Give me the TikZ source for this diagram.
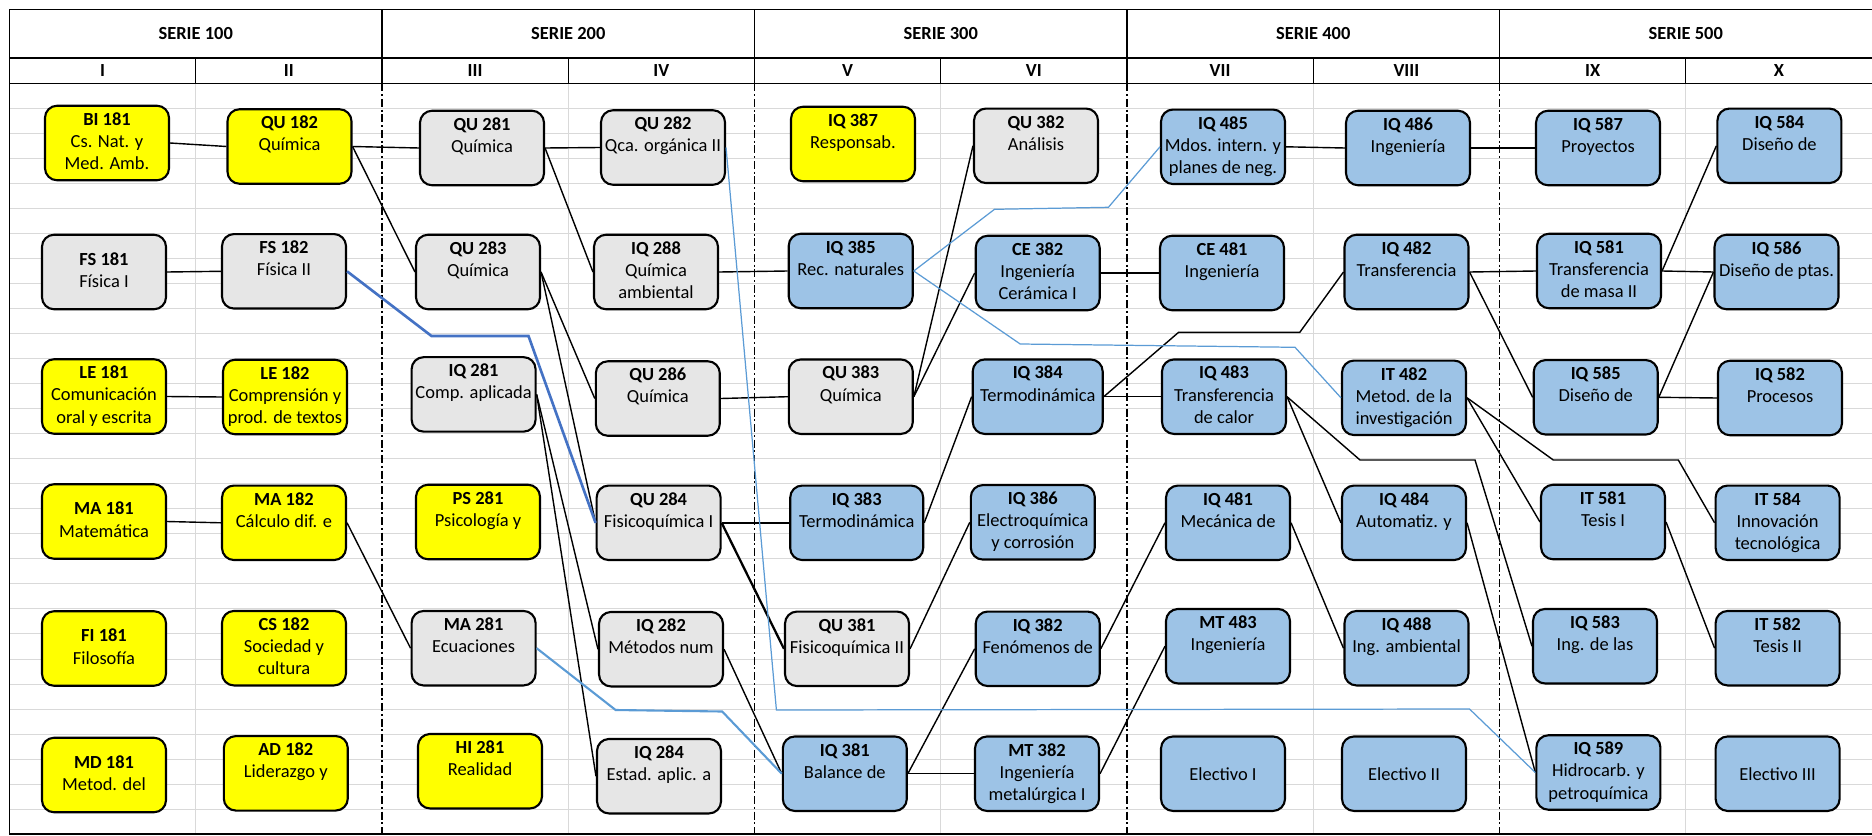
\documentclass[tikz,border=0pt]{standalone}
\usepackage{fontspec}
\setmainfont{Carlito}
\definecolor{cAmarillo}{HTML}{FFFF00}
\definecolor{cGris}{HTML}{E6E6E6}
\definecolor{cAzul}{HTML}{9DC3E6}
\definecolor{cAzulF}{HTML}{4472C4}
\definecolor{cAzulC}{HTML}{5B9BD5}
\definecolor{cRejilla}{HTML}{D9D9D9}
\newcommand{\curso}[3]{\textbf{#1}\strut\\#2\strut\\#3\strut}
\newcommand{\cursoc}[2]{\textbf{#1}\strut\\#2\strut}
\begin{document}
\begin{tikzpicture}[x=0.02cm,y=-0.02cm,font=\fontsize{10.5}{12.6}\selectfont,
    ramo/.style={draw,line width=1.2pt,rounded corners=0.24cm,minimum width=2.48cm,
      minimum height=1.49cm,align=center,inner xsep=2pt,inner ysep=1pt},
    basico/.style={ramo,fill=cAmarillo},
    ciencia/.style={ramo,fill=cGris},
    especial/.style={ramo,fill=cAzul},
    req/.style={line width=0.8pt},
    reqfuerte/.style={line width=1.5pt,cAzulF},
    reqmedio/.style={line width=1.2pt,cAzulC},
    reqclaro/.style={line width=0.7pt,cAzulC},
    rejilla/.style={line width=0.55pt,cRejilla},
    serie/.style={line width=1.1pt,dash pattern=on 0.16cm off 0.055cm on 0.04cm off 0.055cm}]
  \useasboundingbox (0,0) rectangle (1872,835);
  \foreach \k in {1,...,29}
    \draw[rejilla] (9.5,{83.3+25.03*\k}) -- (1872,{83.3+25.03*\k});
  \foreach \i in {1,3,...,9}
    \draw[rejilla] ({9.5+186.25*\i},83.3) -- ({9.5+186.25*\i},834);
  \foreach \i in {2,4,6,8}
    \draw[serie] ({9.5+186.25*\i},83.3) -- ({9.5+186.25*\i},834);
  % encabezado
  \draw[line width=0.75pt] (9.5,9.3) -- (1872,9.3);
  \draw[line width=1.3pt] (9.5,58.3) -- (1872,58.3);
  \draw[line width=0.75pt] (9.5,83.3) -- (1872,83.3);
  \draw[line width=0.75pt] (9.5,9.3) -- (9.5,834) -- (1872,834);
  \foreach \i in {2,4,6,8}
    \draw[line width=1.1pt] ({9.5+186.25*\i},9.3) -- ({9.5+186.25*\i},83.3);
  \foreach \i in {1,3,...,9}
    \draw[line width=0.75pt] ({9.5+186.25*\i},58.3) -- ({9.5+186.25*\i},83.3);
  \foreach \s [count=\n from 0] in {100,200,300,400,500}
    \node (serie\s) at ({195.75+372.5*\n},34) {\textbf{SERIE \s}};
  \foreach \r [count=\n from 0] in {I,II,III,IV,V,VI,VII,VIII,IX,X}
    \node (sem\n) at ({102.6+186.25*\n},71) {\textbf{\r}};

  \node[basico] (bi181) at (107,143) {\curso{BI 181}{Cs. Nat. y}{Med. Amb.}};
  \node[basico] (qu182) at (289.5,146.5) {\curso{QU 182}{Química}{}};
  \node[ciencia] (qu281) at (482,148) {\curso{QU 281}{Química}{}};
  \node[ciencia] (qu282) at (663,147.5) {\curso{QU 282}{Qca. orgánica II}{}};
  \node[basico] (iq387) at (853,144) {\curso{IQ 387}{Responsab.}{}};
  \node[ciencia] (qu382) at (1036,145.8) {\curso{QU 382}{Análisis}{}};
  \node[especial] (iq485) at (1223,146.8) {\curso{IQ 485}{Mdos. intern. y}{planes de neg.}};
  \node[especial] (iq486) at (1408,148) {\curso{IQ 486}{Ingeniería}{}};
  \node[especial] (iq587) at (1598,148) {\curso{IQ 587}{Proyectos}{}};
  \node[especial] (iq584) at (1779.4,145.8) {\curso{IQ 584}{Diseño de}{}};

  \node[ciencia] (fs181) at (104,272) {\cursoc{FS 181}{Física I}};
  \node[ciencia] (fs182) at (284,271.3) {\curso{FS 182}{Física II}{}};
  \node[ciencia] (qu283) at (478,272) {\curso{QU 283}{Química}{}};
  \node[ciencia] (iq288) at (656,272) {\curso{IQ 288}{Química}{ambiental}};
  \node[especial] (iq385) at (850.7,271) {\curso{IQ 385}{Rec. naturales}{}};
  \node[especial] (ce382) at (1037.7,273) {\curso{CE 382}{Ingeniería}{Cerámica I}};
  \node[especial] (ce481) at (1222,273) {\curso{CE 481}{Ingeniería}{}};
  \node[especial] (iq482) at (1406.5,272) {\curso{IQ 482}{Transferencia}{}};
  \node[especial] (iq581) at (1599,271) {\curso{IQ 581}{Transferencia}{de masa II}};
  \node[especial] (iq586) at (1776.5,272) {\curso{IQ 586}{Diseño de ptas.}{}};

  \node[basico] (le181) at (104,396.5) {\curso{LE 181}{Comunicación}{oral y escrita}};
  \node[basico] (le182) at (285,397) {\curso{LE 182}{Comprensión y}{prod. de textos}};
  \node[ciencia] (iq281) at (473.6,394.4) {\curso{IQ 281}{Comp. aplicada}{}};
  \node[ciencia] (qu286) at (657.8,398.5) {\curso{QU 286}{Química}{}};
  \node[ciencia] (qu383) at (850.8,396.7) {\curso{QU 383}{Química}{}};
  \node[especial,minimum width=2.6cm] (iq384) at (1037.7,396.7) {\curso{IQ 384}{Termodinámica}{}};
  \node[especial] (iq483) at (1224,396.7) {\curso{IQ 483}{Transferencia}{de calor}};
  \node[especial] (it482) at (1404,397.8) {\curso{IT 482}{Metod. de la}{investigación}};
  \node[especial] (iq585) at (1595.7,397.3) {\curso{IQ 585}{Diseño de}{}};
  \node[especial] (iq582) at (1780,398) {\curso{IQ 582}{Procesos}{}};

  \node[basico] (ma181) at (104,521.5) {\cursoc{MA 181}{Matemática}};
  \node[basico] (ma182) at (284,522.8) {\curso{MA 182}{Cálculo dif. e}{}};
  \node[basico] (ps281) at (478,522) {\curso{PS 281}{Psicología y}{}};
  \node[ciencia] (qu284) at (658.6,522.8) {\curso{QU 284}{Fisicoquímica I}{}};
  \node[especial,minimum width=2.66cm] (iq383) at (856.7,522.8) {\curso{IQ 383}{Termodinámica}{}};
  \node[especial] (iq386) at (1032.8,522.3) {\curso{IQ 386}{Electroquímica}{y corrosión}};
  \node[especial] (iq481) at (1228,522.8) {\curso{IQ 481}{Mecánica de}{}};
  \node[especial] (iq484) at (1404,522.8) {\curso{IQ 484}{Automatiz. y}{}};
  \node[especial] (it581) at (1603,522) {\curso{IT 581}{Tesis I}{}};
  \node[especial] (it584) at (1777.6,522.8) {\curso{IT 584}{Innovación}{tecnológica}};

  \node[basico] (fi181) at (104,648.5) {\cursoc{FI 181}{Filosofía}};
  \node[basico] (cs182) at (284,648.2) {\curso{CS 182}{Sociedad y}{cultura}};
  \node[ciencia] (ma281) at (473.6,648.2) {\curso{MA 281}{Ecuaciones}{}};
  \node[ciencia] (iq282) at (661,649.2) {\curso{IQ 282}{Métodos num}{}};
  \node[ciencia] (qu381) at (847,648.8) {\curso{QU 381}{Fisicoquímica II}{}};
  \node[especial] (iq382) at (1037.7,648.8) {\curso{IQ 382}{Fenómenos de}{}};
  \node[especial] (mt483) at (1228,646.2) {\curso{MT 483}{Ingeniería}{}};
  \node[especial] (iq488) at (1406.5,648.2) {\curso{IQ 488}{Ing. ambiental}{}};
  \node[especial] (iq583) at (1595,646.2) {\curso{IQ 583}{Ing. de las}{}};
  \node[especial] (it582) at (1777.6,648.2) {\curso{IT 582}{Tesis II}{}};

  \node[basico] (md181) at (104,775) {\cursoc{MD 181}{Metod. del}};
  \node[basico] (ad182) at (285.8,773.3) {\curso{AD 182}{Liderazgo y}{}};
  \node[basico] (hi281) at (480,771.2) {\curso{HI 281}{Realidad}{}};
  \node[ciencia] (iq284) at (659,776.2) {\curso{IQ 284}{Estad. aplic. a}{}};
  \node[especial] (iq381) at (844.8,773.7) {\curso{IQ 381}{Balance de}{}};
  \node[especial] (mt382) at (1037,773.7) {\curso{MT 382}{Ingeniería}{metalúrgica I}};
  \node[especial] (el1) at (1223,773.7) {Electivo I};
  \node[especial] (el2) at (1404,773.7) {Electivo II};
  \node[especial] (iq589) at (1598.4,772.5) {\curso{IQ 589}{Hidrocarb. y}{petroquímica}};
  \node[especial] (el3) at (1777.6,773.7) {Electivo III};

  \draw[req] (bi181.east) -- (qu182.west);
  \draw[req] (qu182.east) -- (qu281.west);
  \draw[req] (qu182.east) -- (qu283.west);
  \draw[req] (qu281.east) -- (qu282.west);
  \draw[req] (qu281.east) -- (iq288.west);
  \draw[req] (fs181.east) -- (fs182.west);
  \draw[req] (le181.east) -- (le182.west);
  \draw[req] (ma181.east) -- (ma182.west);
  \draw[req] (ma182.east) -- (ma281.west);
  \draw[req] (qu283.east) -- (qu286.west);
  \draw[req] (qu283.east) -- (qu284.west);
  \draw[req] (iq281.east) -- (iq282.west);
  \draw[req] (iq281.east) -- (iq284.west);
  \draw[req] (iq288.east) -- (iq385.west);
  \draw[req] (qu286.east) -- (qu383.west);
  \draw[req] (qu284.east) -- (iq383.west);
  \draw[req,line width=1.3pt] (qu284.east) -- (qu381.west);
  \draw[req] (iq282.east) -- (iq381.west);
  \draw[req] (qu383.east) -- (qu382.west);
  \draw[req] (qu383.east) -- (ce382.west);
  \draw[req] (iq383.east) -- (iq384.west);
  \draw[req] (qu381.east) -- (iq386.west);
  \draw[req] (iq381.east) -- (iq382.west);
  \draw[req] (iq381.east) -- (mt382.west);
  \draw[req] (iq384.east) -- (iq483.west);
  \draw[req] (iq384.east) -- (1178.6,332.3) -- (1299.8,332.3) -- (iq482.west);
  \draw[req] (iq382.east) -- (iq481.west);
  \draw[req] (mt382.east) -- (mt483.west);
  \draw[req] (ce382.east) -- (ce481.west);
  \draw[req] (iq485.east) -- (iq486.west);
  \draw[req] (iq486.east) -- (iq587.west);
  \draw[req] (iq483.east) -- (iq484.west);
  \draw[req] (iq483.east) -- (1360,460) -- (1475,460) -- (iq583.west);
  \draw[req] (iq481.east) -- (iq488.west);
  \draw[req] (iq484.east) -- (iq589.west);
  \draw[req] (iq482.east) -- (iq581.west);
  \draw[req] (iq482.east) -- (iq585.west);
  \draw[req] (it482.east) -- (it581.west);
  \draw[req] (it482.east) -- (1553.3,460) -- (1678.3,460) -- (it584.west);
  \draw[req] (iq581.east) -- (iq584.west);
  \draw[req] (iq581.east) -- (iq586.west);
  \draw[req] (iq585.east) -- (iq586.west);
  \draw[req] (iq585.east) -- (iq582.west);
  \draw[req] (it581.east) -- (it582.west);

  \draw[reqfuerte] (fs182.east) -- (431.5,336) -- (528.5,336) -- (qu284.west);
  \draw[reqmedio] (ma281.east) -- (615.6,710) -- (722.2,711.5) -- (iq381.west);
  \draw[reqclaro] (qu282.east) -- (776.4,710) -- (1469.5,709) -- (iq589.west);
  \draw[reqclaro] (iq385.east) -- (994.5,209.3) -- (1108.4,207.3) -- (iq485.west);
  \draw[reqclaro] (iq385.east) -- (1020.2,344) -- (1295,347.3) -- (it482.west);
\end{tikzpicture}
\end{document}
